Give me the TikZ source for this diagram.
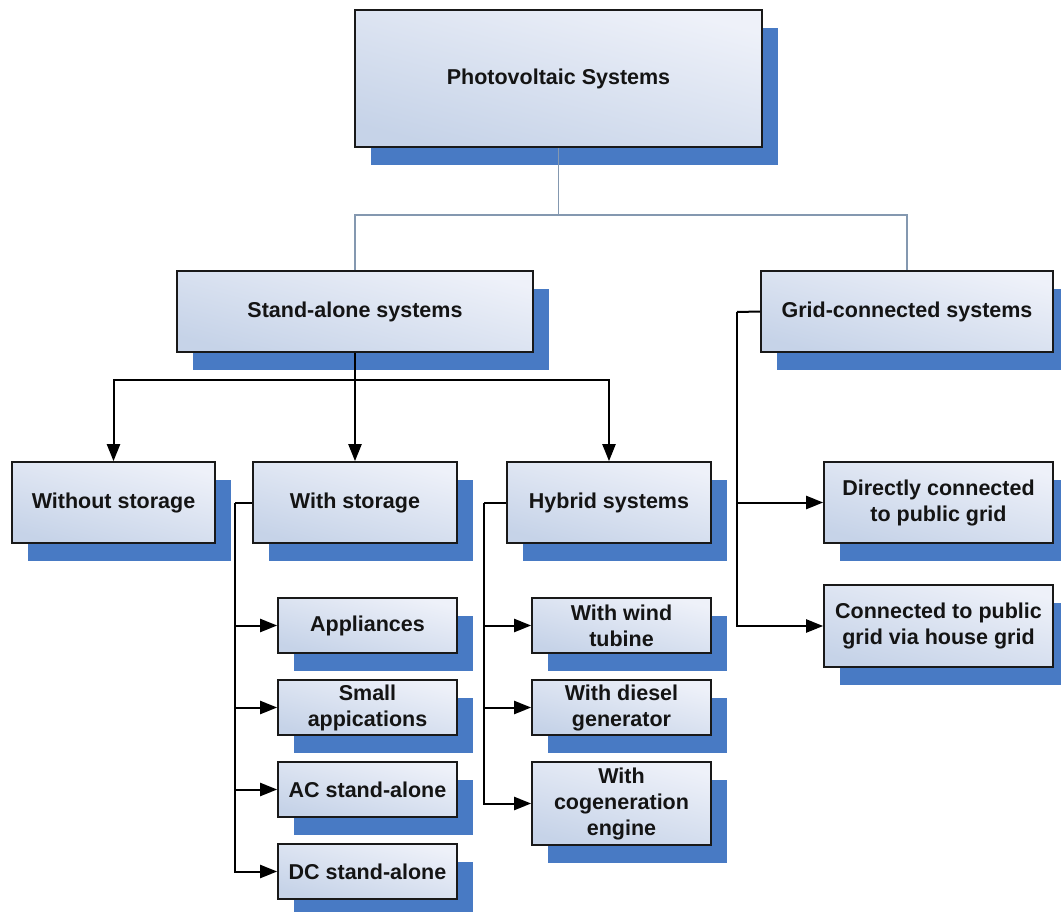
\documentclass[tikz,border=0pt]{standalone}
\usepackage{fontspec}
\setmainfont{Liberation Sans}
\usetikzlibrary{positioning,arrows.meta,calc,shadows}
\definecolor{boxlight}{RGB}{238,241,249}
\definecolor{boxdark}{RGB}{198,211,232}
\definecolor{pvshadow}{RGB}{72,122,196}
\definecolor{busline}{RGB}{132,152,176}
\tikzstyle{pvbox}=[draw=black!90,line width=1.6pt,top color=boxlight,bottom color=boxdark,shading angle=-15,
  drop shadow={shadow xshift=16pt,shadow yshift=-18pt,fill=pvshadow,opacity=1},
  align=center,inner sep=0pt,font=\fontsize{21.5}{26}\selectfont\bfseries,text=black!92]
\tikzstyle{bigbox}=[pvbox,minimum height=81pt]
\tikzstyle{leafbox}=[pvbox,minimum width=179pt,minimum height=55pt]
\tikzstyle{bus}=[draw=busline,line width=1.5pt]
\tikzstyle{link}=[draw,line width=2pt,>={Triangle[length=17pt,width=13pt]}]

\begin{document}
\begin{tikzpicture}[x=1pt,y=-1pt]
  \useasboundingbox[fill=white] (0,0) rectangle (1061,912);
  \node(pv)[pvbox,minimum width=407pt,minimum height=137pt] at (558.5,78.5) {Photovoltaic Systems};
  \node(stand)[bigbox,minimum width=356pt] at (355,311.5) {Stand-alone systems};
  \node(grid)[bigbox,minimum width=292pt] at (907,311.5) {Grid-connected systems};
  \node(nostore)[bigbox,minimum width=203pt] at (113.5,502.5) {Without storage};
  \node(store)[bigbox,minimum width=204pt] at (355,502.5) {With storage};
  \node(hybrid)[bigbox,minimum width=204pt] at (609,502.5) {Hybrid systems};
  \node(direct)[bigbox,minimum width=229pt] at (938.5,502.5) {Directly connected\\to public grid};
  \node(house)[bigbox,minimum width=229pt,minimum height=82pt] at (938.5,626) {Connected to public\\grid via house grid};
  \node(appl)[leafbox] at (367.5,625.5) {Appliances};
  \node(small)[leafbox] at (367.5,707.5) {Small\\appications};
  \node(ac)[leafbox] at (367.5,789.5) {AC stand-alone};
  \node(dc)[leafbox] at (367.5,871.5) {DC stand-alone};
  \node(wind)[leafbox] at (621.5,625.5) {With wind\\tubine};
  \node(diesel)[leafbox] at (621.5,707.5) {With diesel\\generator};
  \node(cogen)[leafbox,minimum height=83pt] at (621.5,803.5) {With\\cogeneration\\engine};

  \coordinate(pvbus) at (558.5,215);
  \coordinate(sabus) at (355,380);
  \coordinate(sttop) at (235,502.5);
  \coordinate(hytop) at (484,502.5);
  \coordinate(grtop) at (737,312);

  \path[bus] (pv.south) -- (pvbus);
  \path[bus] (stand.north) |- (pvbus) -| (grid.north);

  \path[link] (stand.south) -- (sabus);
  \path[link,->] (sabus) -| (nostore.north);
  \path[link,->] (sabus) -- (store.north);
  \path[link,->] (sabus) -| (hybrid.north);

  \path[link] (store.west) -- (sttop);
  \foreach \leaf in {appl,small,ac,dc}
    \path[link,->] (sttop) |- (\leaf.west);

  \path[link] (hybrid.west) -- (hytop);
  \foreach \leaf in {wind,diesel,cogen}
    \path[link,->] (hytop) |- (\leaf.west);

  \path[link] (grid.west) -- (grtop);
  \foreach \leaf in {direct,house}
    \path[link,->] (grtop) |- (\leaf.west);
\end{tikzpicture}
\end{document}
